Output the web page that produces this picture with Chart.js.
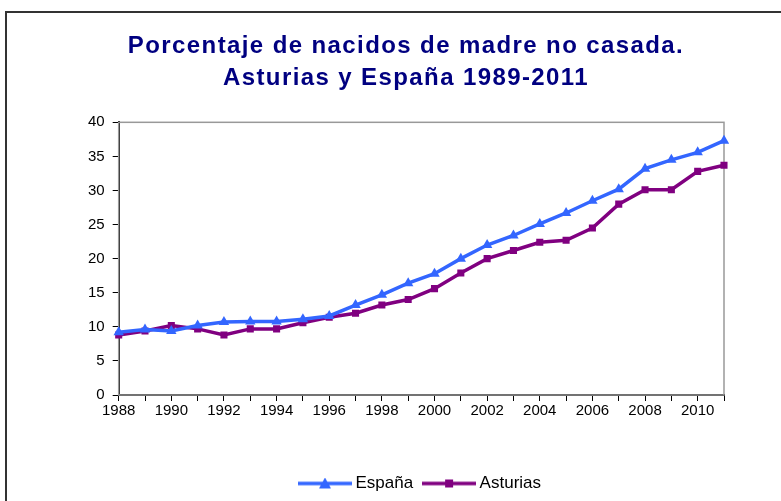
<!DOCTYPE html>
<html>
<head>
<meta charset="utf-8">
<script src="https://cdn.jsdelivr.net/npm/chart.js@4/dist/chart.umd.min.js"></script>
<style>
  html, body { margin: 0; padding: 0; background: #fff; overflow: hidden; }
  #marco { position: absolute; left: 5px; top: 11px; width: 900px; height: 600px; border: 2px solid #333; }
  #grafico { position: absolute; left: 0; top: 0; }
</style>
</head>
<body>
<div id="marco"></div>
<canvas id="grafico" width="826" height="508"></canvas>
<script>
// datos
const anios = ["1988", "1989", "1990", "1991", "1992", "1993", "1994", "1995", "1996", "1997", "1998", "1999",
               "2000", "2001", "2002", "2003", "2004", "2005", "2006", "2007", "2008", "2009", "2010", "2011"];
const espana = [9.2, 9.6, 9.4, 10.2, 10.7, 10.8, 10.8, 11.1, 11.6, 13.2, 14.7, 16.4,
                17.8, 20.0, 22.0, 23.4, 25.1, 26.7, 28.5, 30.2, 33.2, 34.5, 35.6, 37.3];
const asturias = [8.8, 9.4, 10.2, 9.7, 8.8, 9.7, 9.7, 10.6, 11.4, 12.0, 13.2, 14.0,
                  15.6, 17.9, 20.0, 21.2, 22.4, 22.7, 24.5, 28.0, 30.1, 30.1, 32.8, 33.7];
const titulo = ["Porcentaje de nacidos de madre no casada.", "Asturias y España 1989-2011"];

const AZUL = "#3366ff";
const MORADO = "#800080";

// muestra de leyenda: linea con marcador
function muestra(color, estilo) {
    const c = document.createElement("canvas");
    c.width = 54; c.height = 12;
    const ctx = c.getContext("2d");
    ctx.strokeStyle = color;
    ctx.lineWidth = 3.5;
    ctx.beginPath();
    ctx.moveTo(0, 6); ctx.lineTo(54, 6);
    ctx.stroke();
    ctx.fillStyle = color;
    if (estilo === "triangle") {
        ctx.beginPath();
        ctx.moveTo(27, 0); ctx.lineTo(33, 11); ctx.lineTo(21, 11);
        ctx.closePath(); ctx.fill();
    } else {
        ctx.fillRect(23, 2, 8, 8);
    }
    return c;
}

// borde gris del area de trazado y ajustes de posicion
const ajustes = {
    id: "ajustes",
    afterLayout(chart) {
        chart.legend.left += 20;
        chart.legend.right += 20;
        chart.titleBlock.left += 4;
        chart.titleBlock.right += 4;
    },
    beforeDraw(chart) {
        // titulo con algo de espaciado entre letras
        const t = chart.titleBlock;
        if (t && !t._espaciado) {
            const dibujar = t.draw.bind(t);
            t.draw = function () {
                this.ctx.letterSpacing = "1.4px";
                dibujar();
                this.ctx.letterSpacing = "0px";
            };
            t._espaciado = true;
        }
    },
    beforeDatasetsDraw(chart) {
        const a = chart.chartArea;
        const ctx = chart.ctx;
        ctx.save();
        ctx.strokeStyle = "#999";
        ctx.lineWidth = 1.5;
        ctx.strokeRect(a.left, a.top, a.right - a.left, a.bottom - a.top);
        ctx.restore();
    }
};

Chart.defaults.font.family = "Arial, 'Liberation Sans', sans-serif";
Chart.defaults.color = "#000";

new Chart(document.getElementById("grafico"), {
    type: "line",
    data: {
        labels: anios,
        datasets: [{
            label: "España",
            data: espana,
            borderColor: AZUL,
            backgroundColor: AZUL,
            borderWidth: 3.5,
            pointStyle: "triangle",
            pointRadius: 6,
            pointBorderWidth: 0,
            tension: 0
        }, {
            label: "Asturias",
            data: asturias,
            borderColor: MORADO,
            backgroundColor: MORADO,
            borderWidth: 3.5,
            pointStyle: "rect",
            pointRadius: 5,
            pointBorderWidth: 0,
            tension: 0
        }]
    },
    options: {
        responsive: false,
        animation: false,
        layout: { padding: { left: 80, right: 102, top: 0, bottom: 6 } },
        plugins: {
            title: {
                display: true,
                text: titulo,
                color: "#000080",
                font: { size: 24, weight: "bold", lineHeight: 1.34 },
                padding: { top: 30, bottom: 28 }
            },
            legend: {
                position: "bottom",
                labels: {
                    usePointStyle: true,
                    pointStyleWidth: 44,
                    padding: 14,
                    font: { size: 17 },
                    generateLabels(chart) {
                        return chart.data.datasets.map((ds, i) => ({
                            text: ds.label,
                            pointStyle: muestra(ds.borderColor, ds.pointStyle),
                            fillStyle: ds.borderColor,
                            strokeStyle: ds.borderColor,
                            lineWidth: 0,
                            datasetIndex: i
                        }));
                    }
                }
            },
            tooltip: { enabled: false }
        },
        scales: {
            x: {
                grid: { display: true, drawOnChartArea: false, color: "#000", tickLength: 6 },
                border: { color: "#000", width: 2 },
                ticks: {
                    autoSkip: false,
                    maxRotation: 0,
                    font: { size: 15 },
                    padding: 1,
                    callback(v, i) { return i % 2 === 0 ? anios[i] : ""; }
                },
                afterFit(scale) { scale.height += 40; }
            },
            y: {
                min: 0,
                max: 40,
                grid: { display: true, drawOnChartArea: false, color: "#000", tickLength: 6 },
                border: { color: "#000", width: 2 },
                ticks: { stepSize: 5, font: { size: 15 }, padding: 8 }
            }
        }
    },
    plugins: [ajustes]
});
</script>
</body>
</html>
